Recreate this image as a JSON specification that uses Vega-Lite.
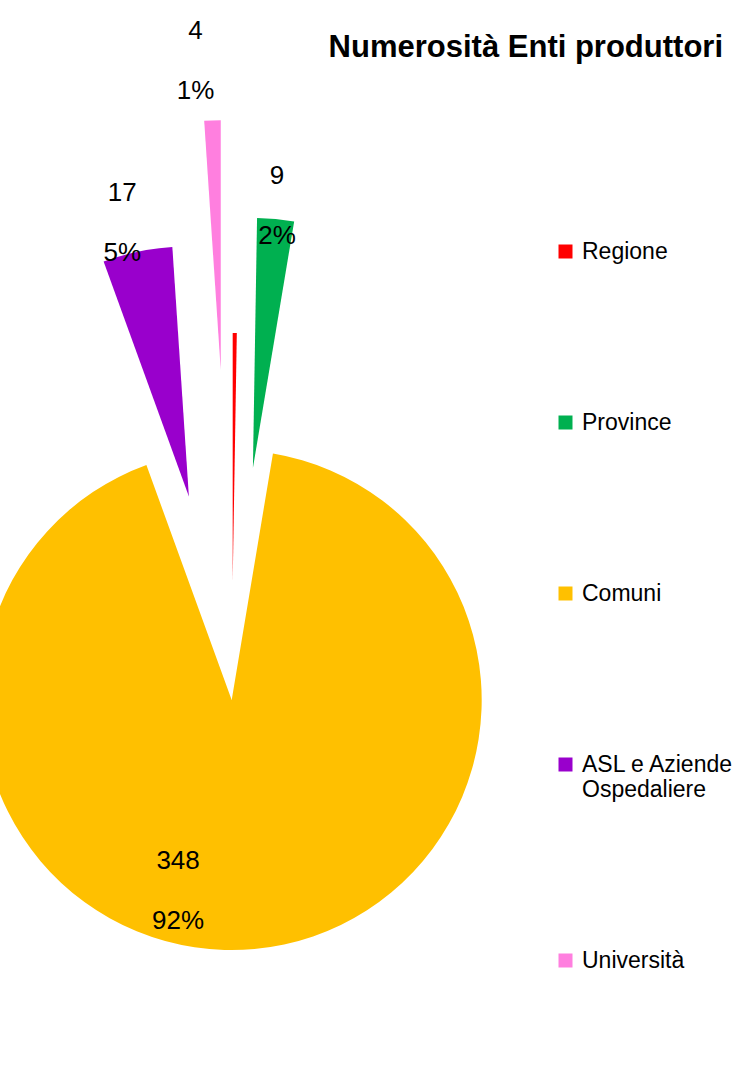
{
  "$schema": "https://vega.github.io/schema/vega-lite/v6.json",
  "width": 745,
  "height": 1077,
  "autosize": "none",
  "padding": 0,
  "background": "white",
  "config": {
    "view": {"stroke": null},
    "font": "Liberation Sans, Arial, sans-serif"
  },
  "title": {
    "text": "Numerosità Enti produttori",
    "orient": "top",
    "anchor": "end",
    "offset": -64,
    "dx": -22,
    "fontSize": 31,
    "fontWeight": "bold",
    "font": "Liberation Sans, Arial, sans-serif",
    "color": "black"
  },
  "data": {
    "values": [
      {"ente": "Regione", "n": 1, "ordine": 1, "etichetta": ""},
      {"ente": "Province", "n": 9, "ordine": 2, "etichetta": "9\n2%"},
      {"ente": "Comuni", "n": 348, "ordine": 3, "etichetta": "348\n92%"},
      {"ente": "ASL e Aziende Ospedaliere", "n": 17, "ordine": 4, "etichetta": "17\n5%"},
      {"ente": "Università", "n": 4, "ordine": 5, "etichetta": "4\n1%"}
    ]
  },
  "transform": [
    {"joinaggregate": [{"op": "sum", "field": "n", "as": "tot"}]}
  ],
  "encoding": {
    "theta": {"field": "n", "type": "quantitative", "stack": true},
    "order": {"field": "ordine", "type": "quantitative"}
  },
  "layer": [
    {
      "mark": {
        "type": "arc",
        "outerRadius": 250,
        "strokeWidth": 0,
        "x": {"expr": "width*0.311 + (datum.ente=='Regione'?117:datum.ente=='Province'?233:datum.ente=='Università'?330:datum.ente=='Comuni'?0:208)*sin(PI*(datum.n_start+datum.n_end)/datum.tot)"},
        "y": {"expr": "height*0.65 - (datum.ente=='Regione'?117:datum.ente=='Province'?233:datum.ente=='Università'?330:datum.ente=='Comuni'?0:208)*cos(PI*(datum.n_start+datum.n_end)/datum.tot)"}
      },
      "encoding": {
        "color": {
          "field": "ente",
          "type": "nominal",
          "sort": ["Regione", "Province", "Comuni", "ASL e Aziende Ospedaliere", "Università"],
          "scale": {
            "domain": ["Regione", "Province", "Comuni", "ASL e Aziende Ospedaliere", "Università"],
            "range": ["#FF0000", "#00B050", "#FFC000", "#9900CC", "#FF7FDF"]
          },
          "legend": {
            "orient": "none",
            "legendX": 554,
            "legendY": 240,
            "title": null,
            "padding": 0,
            "symbolType": "square",
            "symbolSize": 196,
            "symbolStrokeWidth": 0,
            "symbolOpacity": 1,
            "labelFont": "Liberation Sans, Arial, sans-serif",
            "labelFontSize": 23,
            "labelColor": "black",
            "labelOffset": 5,
            "labelLimit": 0,
            "rowPadding": 147,
            "labelExpr": "datum.label=='ASL e Aziende Ospedaliere' ? ['ASL e Aziende', 'Ospedaliere'] : datum.label"
          }
        }
      }
    },
    {
      "mark": {
        "type": "text",
        "font": "Liberation Sans, Arial, sans-serif",
        "fontSize": 26,
        "lineBreak": "\n",
        "lineHeight": 60,
        "color": "black",
        "align": "center",
        "baseline": "middle",
        "x": {"expr": "width*0.311"},
        "y": {"expr": "height*0.65"},
        "radius": {"expr": "datum.ente=='Comuni'?191:datum.ente=='Università'?640:datum.ente=='Province'?497:488"},
        "dx": {"expr": "datum.ente=='Comuni'?-71:datum.ente=='Università'?-15:datum.ente=='Province'?0:-9"},
        "dy": -29
      },
      "encoding": {
        "text": {"field": "etichetta", "type": "nominal"}
      }
    }
  ]
}
